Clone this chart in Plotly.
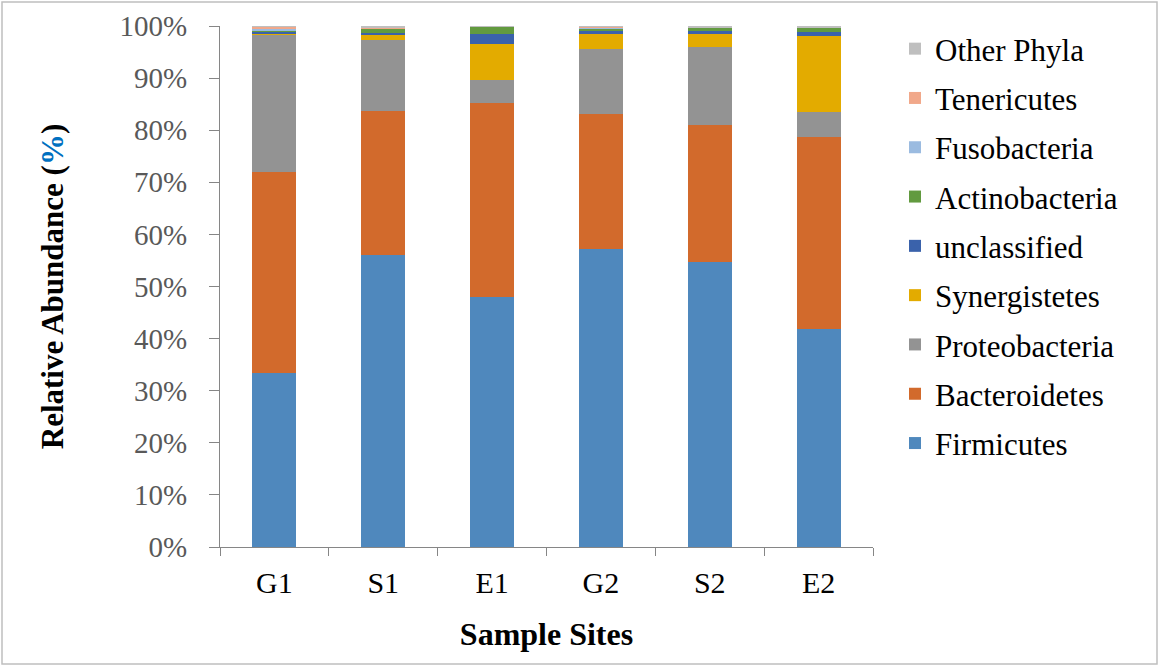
import plotly.graph_objects as go

sites = ["G1", "S1", "E1", "G2", "S2", "E2"]

firmicutes = [33.4, 56.0, 48.0, 57.2, 54.7, 41.8]
bacteroidetes = [38.6, 27.7, 37.2, 26.0, 26.3, 36.9]
proteobacteria = [26.3, 13.7, 4.4, 12.4, 15.0, 4.8]
synergistetes = [0.1, 1.0, 6.9, 2.8, 2.5, 14.6]
unclassified = [0.6, 0.3, 1.9, 0.6, 0.6, 0.8]
actinobacteria = [0.1, 0.8, 1.5, 0.5, 0.6, 0.9]
fusobacteria = [0.3, 0.1, 0.0, 0.2, 0.0, 0.0]
tenericutes = [0.5, 0.1, 0.0, 0.2, 0.0, 0.0]
other_phyla = [0.1, 0.3, 0.1, 0.1, 0.3, 0.2]

series = [
    ("Firmicutes", firmicutes, "#4F88BD"),
    ("Bacteroidetes", bacteroidetes, "#D26A2C"),
    ("Proteobacteria", proteobacteria, "#939393"),
    ("Synergistetes", synergistetes, "#E3AB00"),
    ("unclassified", unclassified, "#3A62AB"),
    ("Actinobacteria", actinobacteria, "#629A3F"),
    ("Fusobacteria", fusobacteria, "#9BBBE0"),
    ("Tenericutes", tenericutes, "#F1A88A"),
    ("Other Phyla", other_phyla, "#BFBFBF"),
]

fig = go.Figure()
n = len(series)
for i, (name, vals, color) in enumerate(series):
    fig.add_trace(go.Bar(
        x=sites, y=vals, name=name, legendgroup=name, legendrank=n - i,
        marker=dict(color=color, line=dict(width=0)),
    ))

serif = "Liberation Serif, Times New Roman, serif"

L, R, T, B = 220, 286, 26, 119
pw, ph = 1159 - L - R, 666 - T - B

fig.update_layout(
    width=1159, height=666,
    barmode="stack", bargap=0.595,
    paper_bgcolor="white", plot_bgcolor="white",
    margin=dict(l=L, r=R, t=T, b=B),
    font=dict(family=serif, color="black"),
    showlegend=True,
    legend=dict(
        x=(895 - L) / pw, xanchor="left", y=1 + 4 / ph, yanchor="top",
        traceorder="grouped", tracegroupgap=6, maxheight=620,
        font=dict(family=serif, size=31, color="black"),
    ),
    xaxis=dict(
        automargin=False,
        showline=True, linecolor="#868686", linewidth=1,
        ticks="outside", ticklen=8, tickcolor="#868686", tickson="boundaries",
        ticklabelstandoff=9,
        tickfont=dict(family=serif, size=30, color="black"),
        title=dict(text="<b>Sample Sites</b>", font=dict(family=serif, size=32, color="black"), standoff=24),
    ),
    yaxis=dict(
        automargin=False,
        range=[0, 100], dtick=10, ticksuffix="%",
        showline=True, linecolor="#868686", linewidth=1,
        ticks="outside", ticklen=10, tickcolor="#868686",
        ticklabelstandoff=16,
        showgrid=False, zeroline=False,
        tickfont=dict(family=serif, size=29, color="#595959"),
        title=dict(
            text="<b>Relative Abundance (<span style='color:#0070C0'>%</span>)</b>",
            font=dict(family=serif, size=31, color="black"), standoff=46,
        ),
    ),
    shapes=[dict(
        type="rect", xref="paper", yref="paper",
        x0=(2 - L) / pw, x1=(1157 - L) / pw, y0=-(B - 2) / ph, y1=1 + (T - 2) / ph,
        line=dict(color="#BFBFBF", width=1.5), fillcolor="rgba(0,0,0,0)", layer="below",
    )],
)

fig.write_html("out.html")
